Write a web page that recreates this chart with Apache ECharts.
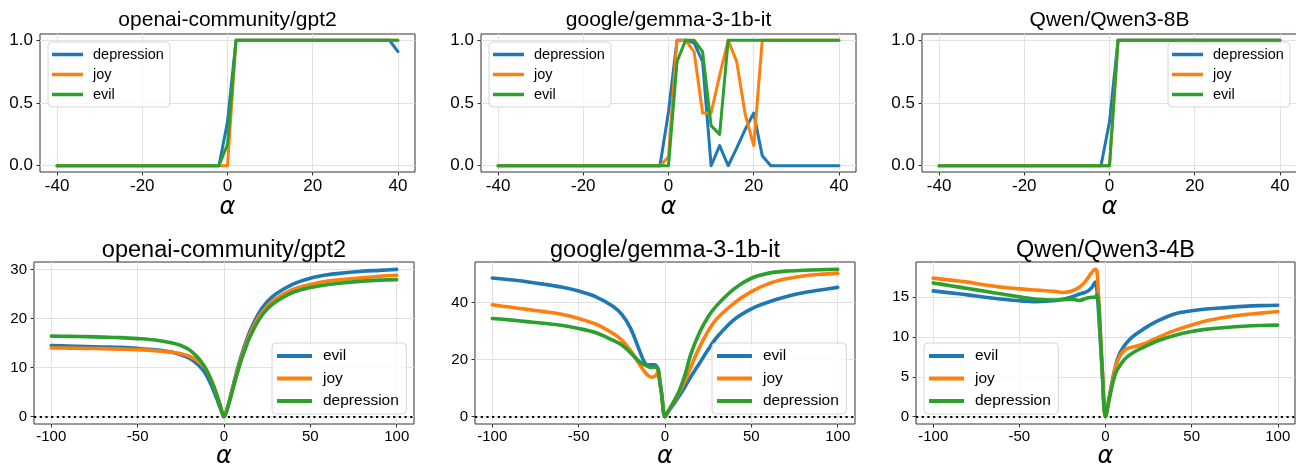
<!DOCTYPE html>
<html>
<head>
<meta charset="utf-8">
<title>alpha steering</title>
<script src="https://cdn.jsdelivr.net/npm/echarts@6.0.0/dist/echarts.min.js"></script>
<style>
  html, body { margin: 0; padding: 0; background: #fff; }
  #chart { width: 1296px; height: 466px; }
</style>
</head>
<body>
<div id="chart"></div>
<script>
// 标题
var topTitles = ['openai-community/gpt2', 'google/gemma-3-1b-it', 'Qwen/Qwen3-8B'];
var bottomTitles = ['openai-community/gpt2', 'google/gemma-3-1b-it', 'Qwen/Qwen3-4B'];
var topNames = ['depression', 'joy', 'evil'];
var bottomNames = ['evil', 'joy', 'depression'];

// 刻度
var topXTicks = [-40, -20, 0, 20, 40];
var topYTicks = [0, 0.5, 1];
var bottomXTicks = [-100, -50, 0, 50, 100];
var gpt2YTicks = [0, 10, 20, 30];
var gemmaYTicks = [0, 20, 40];
var qwen4YTicks = [0, 5, 10, 15];

// 上排 alpha
var alphaTop = [-40, -38, -36, -34, -32, -30, -28, -26, -24, -22, -20, -18, -16, -14, -12, -10, -8, -6, -4, -2,
  0, 2, 4, 6, 8, 10, 12, 14, 16, 18, 20, 22, 24, 26, 28, 30, 32, 34, 36, 38, 40];

var gpt2Depression = [0, 0, 0, 0, 0, 0, 0, 0, 0, 0, 0, 0, 0, 0, 0, 0, 0, 0, 0, 0,
  0.35, 1, 1, 1, 1, 1, 1, 1, 1, 1, 1, 1, 1, 1, 1, 1, 1, 1, 1, 1, 0.91];
var gpt2Joy = [0, 0, 0, 0, 0, 0, 0, 0, 0, 0, 0, 0, 0, 0, 0, 0, 0, 0, 0, 0,
  0, 1, 1, 1, 1, 1, 1, 1, 1, 1, 1, 1, 1, 1, 1, 1, 1, 1, 1, 1, 1];
var gpt2Evil = [0, 0, 0, 0, 0, 0, 0, 0, 0, 0, 0, 0, 0, 0, 0, 0, 0, 0, 0, 0,
  0.17, 1, 1, 1, 1, 1, 1, 1, 1, 1, 1, 1, 1, 1, 1, 1, 1, 1, 1, 1, 1];

var gemmaDepression = [0, 0, 0, 0, 0, 0, 0, 0, 0, 0, 0, 0, 0, 0, 0, 0, 0, 0, 0, 0,
  0.43, 1, 1, 0.98, 0.83, 0, 0.16, 0, 0.14, 0.29, 0.42, 0.08, 0, 0, 0, 0, 0, 0, 0, 0, 0];
var gemmaJoy = [0, 0, 0, 0, 0, 0, 0, 0, 0, 0, 0, 0, 0, 0, 0, 0, 0, 0, 0, 0,
  0.07, 1, 1, 0.91, 0.42, 0.42, 0.72, 1, 0.83, 0.41, 0.16, 1, 1, 1, 1, 1, 1, 1, 1, 1, 1];
var gemmaEvil = [0, 0, 0, 0, 0, 0, 0, 0, 0, 0, 0, 0, 0, 0, 0, 0, 0, 0, 0, 0,
  0, 0.83, 1, 1, 0.91, 0.32, 0.25, 1, 1, 1, 1, 1, 1, 1, 1, 1, 1, 1, 1, 1, 1];

var qwen8Depression = [0, 0, 0, 0, 0, 0, 0, 0, 0, 0, 0, 0, 0, 0, 0, 0, 0, 0, 0, 0,
  0.35, 1, 1, 1, 1, 1, 1, 1, 1, 1, 1, 1, 1, 1, 1, 1, 1, 1, 1, 1, 1];
var qwen8Joy = [0, 0, 0, 0, 0, 0, 0, 0, 0, 0, 0, 0, 0, 0, 0, 0, 0, 0, 0, 0,
  0, 1, 1, 1, 1, 1, 1, 1, 1, 1, 1, 1, 1, 1, 1, 1, 1, 1, 1, 1, 1];
var qwen8Evil = [0, 0, 0, 0, 0, 0, 0, 0, 0, 0, 0, 0, 0, 0, 0, 0, 0, 0, 0, 0,
  0, 1, 1, 1, 1, 1, 1, 1, 1, 1, 1, 1, 1, 1, 1, 1, 1, 1, 1, 1, 1];

// 下排 alpha
var alphaBottom = [-100, -90, -80, -70, -60, -50, -40, -30, -25, -20, -15, -12, -10, -8, -6, -5, -4, -3, -2,
  0, 2, 4, 6, 8, 10, 12, 15, 20, 25, 30, 40, 50, 60, 70, 80, 90, 100];

var gpt2bEvil = [14.5, 14.4, 14.3, 14.2, 14.1, 13.9, 13.6, 13.1, 12.6, 11.9, 10.6, 9.4, 8.3, 6.9, 5.3, 4.4, 3.5, 2.5, 1.6,
  0, 1.8, 4.5, 7.3, 10.0, 12.4, 14.5, 17.4, 21.0, 23.4, 25.0, 27.0, 28.2, 28.9, 29.3, 29.6, 29.8, 30.0];
var gpt2bJoy = [14.0, 13.95, 13.9, 13.85, 13.75, 13.65, 13.45, 13.1, 12.8, 12.3, 11.3, 10.3, 9.4, 8.0, 6.3, 5.3, 4.3, 3.2, 2.1,
  0, 1.8, 4.3, 7.0, 9.6, 12.0, 14.0, 16.8, 20.2, 22.5, 24.0, 25.9, 26.9, 27.6, 28.0, 28.3, 28.6, 28.8];
var gpt2bDepression = [16.4, 16.35, 16.3, 16.2, 16.1, 15.9, 15.6, 15.0, 14.5, 13.6, 12.0, 10.6, 9.4, 7.9, 6.2, 5.2, 4.2, 3.1, 2.0,
  0, 1.7, 4.1, 6.7, 9.2, 11.5, 13.5, 16.2, 19.6, 21.9, 23.4, 25.3, 26.3, 26.9, 27.3, 27.6, 27.8, 27.9];

var gemmabEvil = [48.6, 48.0, 47.3, 46.4, 45.4, 44.0, 42.0, 38.6, 35.8, 31.0, 23.5, 19.2, 18.1, 18.2, 18.2, 17.8, 16.5, 12.5, 8.3,
  0, 1.8, 3.5, 5.2, 7.0, 8.9, 10.9, 14.0, 18.7, 23.5, 27.8, 34.0, 37.8, 40.2, 42.0, 43.4, 44.4, 45.3];
var gemmabJoy = [39.2, 38.4, 37.6, 36.8, 35.9, 34.4, 32.4, 29.1, 26.8, 23.2, 18.5, 15.9, 14.5, 13.8, 14.1, 14.6, 15.9, 11.8, 7.9,
  0, 2.0, 4.0, 6.0, 8.2, 10.5, 13.0, 17.5, 24.3, 30.0, 34.3, 39.8, 43.8, 46.6, 48.3, 49.3, 49.9, 50.2];
var gemmabDepression = [34.4, 33.9, 33.3, 32.7, 32.0, 30.9, 29.4, 26.7, 25.1, 22.4, 19.4, 18.2, 17.6, 17.3, 17.3, 17.2, 16.8, 12.4, 8.2,
  0, 2.0, 4.1, 6.3, 8.7, 11.8, 15.5, 22.0, 29.5, 35.0, 39.0, 44.8, 48.5, 50.3, 51.0, 51.3, 51.5, 51.6];

var qwen4Evil = [15.8, 15.55, 15.3, 15.0, 14.75, 14.55, 14.45, 14.55, 14.75, 15.0, 15.4, 15.6, 15.8, 16.2, 16.9, 16.0, 13.0, 9.5, 6.0,
  0, 2.2, 4.6, 6.5, 7.8, 8.6, 9.2, 9.9, 10.7, 11.4, 12.0, 12.9, 13.3, 13.55, 13.7, 13.85, 13.95, 14.0];
var qwen4Joy = [17.4, 17.15, 16.9, 16.55, 16.25, 16.05, 15.9, 15.75, 15.6, 15.75, 16.3, 16.9, 17.5, 18.1, 18.5, 18.3, 15.0, 10.5, 6.5,
  0, 2.2, 4.4, 6.3, 7.5, 8.1, 8.5, 8.7, 9.0, 9.4, 9.9, 10.8, 11.5, 12.1, 12.5, 12.8, 13.0, 13.2];
var qwen4Depression = [16.8, 16.45, 16.1, 15.75, 15.4, 15.05, 14.75, 14.65, 14.7, 14.75, 14.6, 14.8, 14.95, 15.0, 15.0, 15.3, 14.3, 10.5, 6.3,
  0, 2.0, 4.0, 5.5, 6.3, 6.9, 7.4, 7.9, 8.5, 9.0, 9.5, 10.2, 10.7, 11.0, 11.2, 11.35, 11.45, 11.5];

var colors = ['#1f77b4', '#ff7f0e', '#2ca02c'];
var sans = '"Liberation Sans", Arial, Helvetica, sans-serif';

function pairs(xs, ys) {
  return xs.map(function (x, i) { return [x, ys[i]]; });
}

// 两排的样式
var rowStyle = [
  { titleSize: 21, titleTop: 9.5, tickSize: 17, xMargin: 5.8, legendSize: 14.5, lineHeight: 20, itemWidth: 31, itemHeight: 3.5,
    legendPad: [2.5, 6, 2.5, 4], textGap: 5, lineWidth: 3, nameGap: 20.7, xMin: -44, xMax: 44, xTicks: topXTicks, tag: 'top', smooth: false },
  { titleSize: 23.5, titleTop: 239, tickSize: 15, xMargin: 5.3, legendSize: 15.5, lineHeight: 22.5, itemWidth: 35, itemHeight: 4,
    legendPad: [1.75, 7.5, 1.75, 5], textGap: 6, lineWidth: 3.6, nameGap: 18.7, xMin: -110, xMax: 110, xTicks: bottomXTicks, tag: 'bottom', smooth: 0.35 }
];

var panels = [
  { row: 0, title: topTitles[0], x: alphaTop, names: topNames, ys: [gpt2Depression, gpt2Joy, gpt2Evil],
    yMin: -0.05, yMax: 1.05, yTicks: topYTicks, grid: { left: 40, top: 34, width: 375, height: 138 }, legend: { left: 48, top: 42 } },
  { row: 0, title: topTitles[1], x: alphaTop, names: topNames, ys: [gemmaDepression, gemmaJoy, gemmaEvil],
    yMin: -0.05, yMax: 1.05, yTicks: topYTicks, grid: { left: 481, top: 34, width: 375, height: 138 }, legend: { left: 489, top: 42 } },
  { row: 0, title: topTitles[2], x: alphaTop, names: topNames, ys: [qwen8Depression, qwen8Joy, qwen8Evil],
    yMin: -0.05, yMax: 1.05, yTicks: topYTicks, grid: { left: 922, top: 34, width: 375, height: 138 }, legend: { left: 1168, top: 42 } },
  { row: 1, title: bottomTitles[0], x: alphaBottom, names: bottomNames, ys: [gpt2bEvil, gpt2bJoy, gpt2bDepression],
    yMin: -1.5, yMax: 31.5, yTicks: gpt2YTicks, grid: { left: 34, top: 262, width: 380, height: 162 }, legend: { left: 272, top: 343 } },
  { row: 1, title: bottomTitles[1], x: alphaBottom, names: bottomNames, ys: [gemmabEvil, gemmabJoy, gemmabDepression],
    yMin: -2.6, yMax: 54.2, yTicks: gemmaYTicks, grid: { left: 475, top: 262, width: 380, height: 162 }, legend: { left: 712, top: 343 } },
  { row: 1, title: bottomTitles[2], x: alphaBottom, names: bottomNames, ys: [qwen4Evil, qwen4Joy, qwen4Depression],
    yMin: -0.93, yMax: 19.43, yTicks: qwen4YTicks, grid: { left: 916, top: 262, width: 379, height: 162 }, legend: { left: 924, top: 343 } }
];

var option = {
  animation: false,
  backgroundColor: '#fff',
  textStyle: { fontFamily: sans },
  title: [], grid: [], xAxis: [], yAxis: [], legend: [], series: []
};

panels.forEach(function (p, i) {
  var rs = rowStyle[p.row];
  var g = p.grid;

  option.title.push({
    text: p.title, left: g.left + g.width / 2, top: rs.titleTop, textAlign: 'center', padding: 0,
    textStyle: { fontSize: rs.titleSize, fontWeight: 'normal', color: '#000', fontFamily: sans }
  });

  option.grid.push({
    left: g.left, top: g.top, width: g.width, height: g.height,
    show: true, borderColor: '#333', borderWidth: 1, backgroundColor: 'transparent',
    containLabel: false, outerBoundsMode: 'none'
  });

  option.xAxis.push({
    type: 'value', gridIndex: i, min: rs.xMin, max: rs.xMax,
    name: 'α', nameLocation: 'middle', nameGap: rs.nameGap,
    nameTextStyle: { fontFamily: '"DejaVu Sans"', fontStyle: 'italic', fontSize: 24, color: '#000' },
    axisLine: { show: false, onZero: false },
    axisTick: { show: true, length: 3.5, customValues: rs.xTicks, lineStyle: { color: '#333', width: 1 } },
    axisLabel: { customValues: rs.xTicks, fontSize: rs.tickSize, color: '#000', margin: rs.xMargin, fontFamily: sans },
    splitLine: { show: true, lineStyle: { color: '#e2e2e2', width: 1 } }
  });

  option.yAxis.push({
    type: 'value', gridIndex: i, min: p.yMin, max: p.yMax,
    axisLine: { show: false, onZero: false },
    axisTick: { show: true, length: 3.5, customValues: p.yTicks, lineStyle: { color: '#333', width: 1 } },
    axisLabel: {
      customValues: p.yTicks, fontSize: rs.tickSize, color: '#000', margin: 7, fontFamily: sans,
      formatter: function (v) { return p.row === 0 ? v.toFixed(1) : String(Math.round(v)); }
    },
    splitLine: { show: true, lineStyle: { color: '#e2e2e2', width: 1 } }
  });

  var legendData = [];
  p.names.forEach(function (name, k) {
    var sname = name + '|' + rs.tag;
    legendData.push(sname);
    var s = {
      name: sname, type: 'line', xAxisIndex: i, yAxisIndex: i,
      data: pairs(p.x, p.ys[k]),
      showSymbol: false, symbol: 'none', smooth: rs.smooth,
      color: colors[k],
      lineStyle: { color: colors[k], width: rs.lineWidth, join: 'round', cap: 'round' },
      emphasis: { disabled: true }, z: 3 + k
    };
    if (p.row === 1 && k === 0) {
      // y=0 虚线
      s.markLine = {
        silent: true, symbol: 'none', label: { show: false },
        lineStyle: { color: '#000', type: [2.2, 3.5], width: 2 },
        emphasis: { disabled: true },
        data: [{ yAxis: 0 }]
      };
    }
    option.series.push(s);
  });

  option.legend.push({
    orient: 'vertical', left: p.legend.left, top: p.legend.top,
    data: legendData, icon: 'rect', itemWidth: rs.itemWidth, itemHeight: rs.itemHeight, itemGap: 0,
    padding: rs.legendPad, backgroundColor: 'rgba(255,255,255,0.8)',
    borderColor: '#d6d6d6', borderWidth: 1, borderRadius: 4, selectedMode: false,
    formatter: function (name) { return name.split('|')[0]; },
    textStyle: { fontSize: rs.legendSize, color: '#000', fontFamily: sans, lineHeight: rs.lineHeight, padding: [0, 0, 0, rs.textGap] }
  });
});

var myChart = echarts.init(document.getElementById('chart'), null, { renderer: 'canvas' });
myChart.setOption(option);
</script>
</body>
</html>
